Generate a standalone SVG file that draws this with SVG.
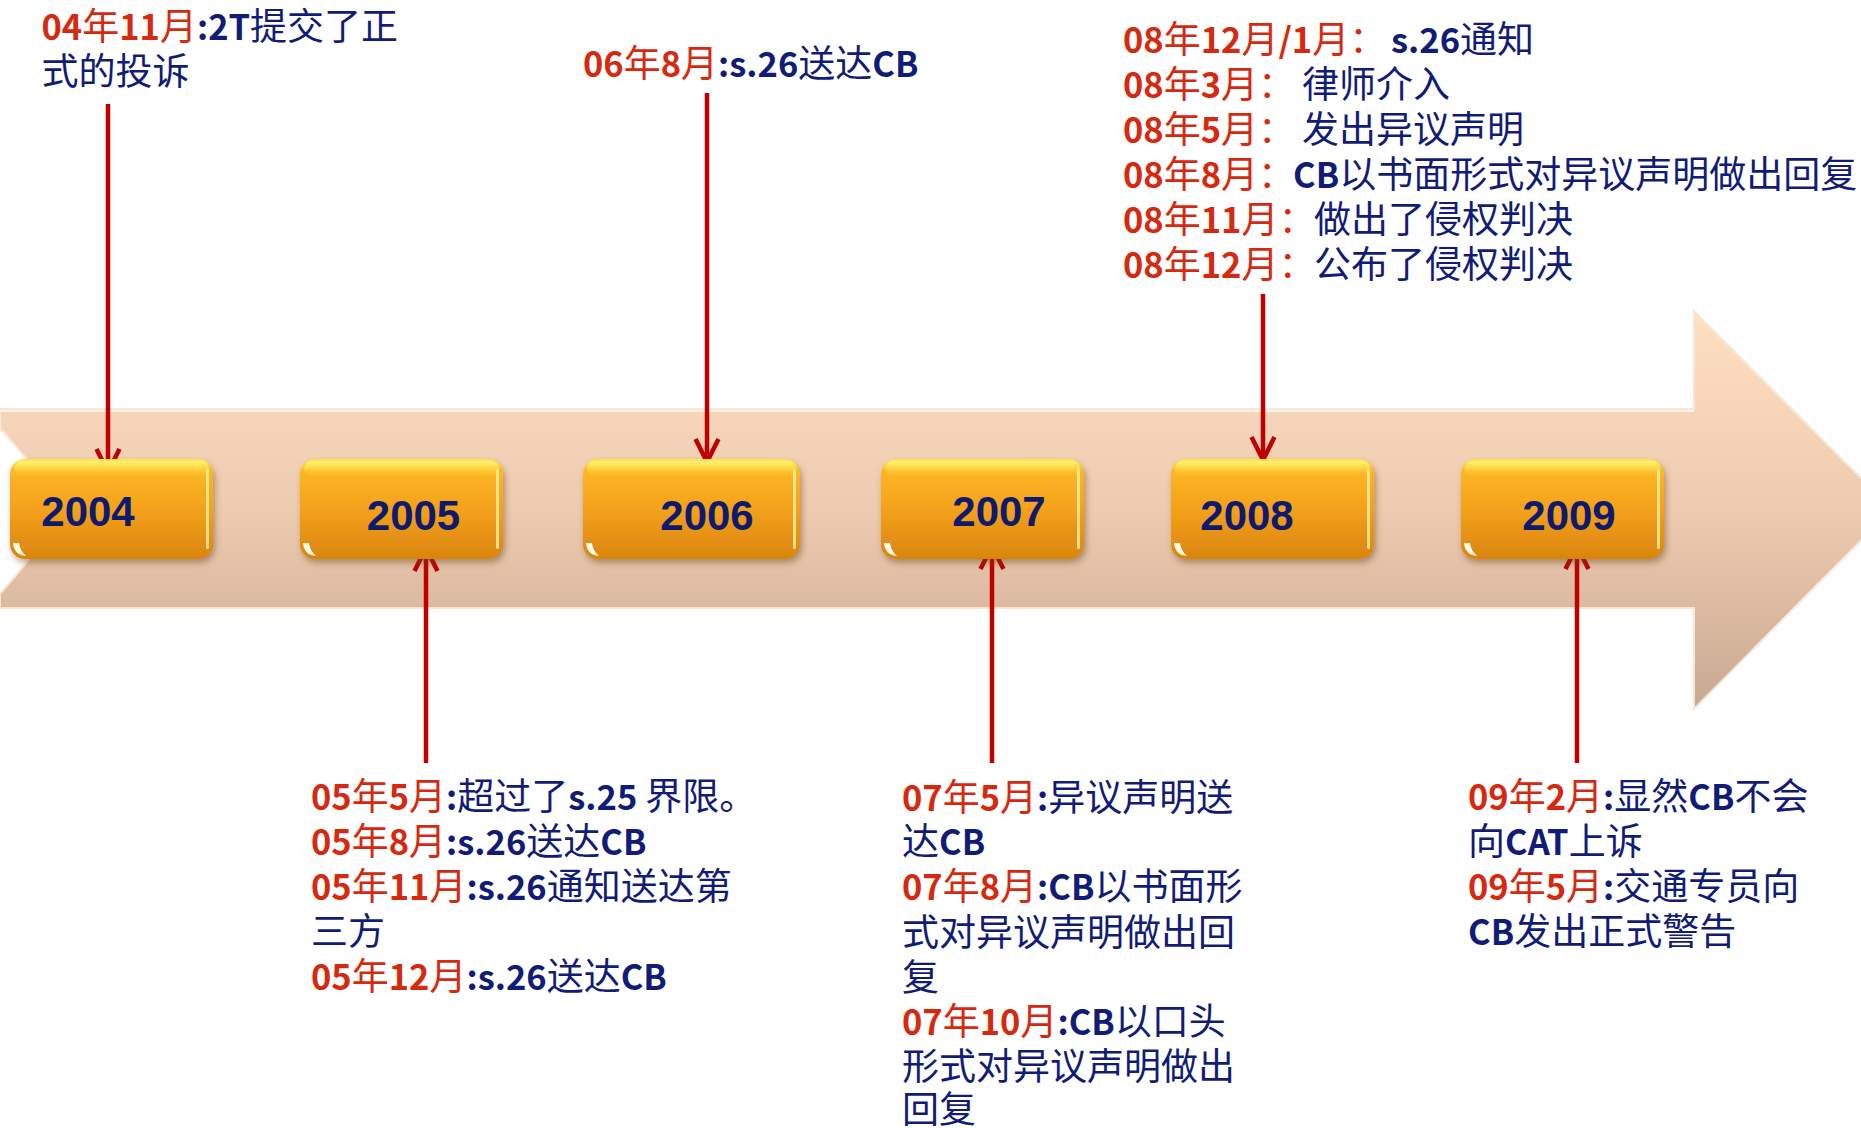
<svg xmlns="http://www.w3.org/2000/svg" xmlns:xlink="http://www.w3.org/1999/xlink" width="1861" height="1128" viewBox="0 0 1861 1128">
<style>
.tx{font-family:"Noto Sans CJK SC","Noto Sans",sans-serif;font-size:37px;fill:#111B78}
.r{fill:#D62A10}
.b{font-weight:700;font-size:34.5px}
.yr{font-family:"Liberation Sans",Arial,sans-serif;font-size:42px;font-weight:700;fill:#0E1A6E;text-anchor:middle}
.con{stroke:#C00000;stroke-width:4.5;fill:none;marker-end:url(#ah)}
</style>
<defs>
<linearGradient id="bandG" gradientUnits="userSpaceOnUse" x1="0" y1="311" x2="0" y2="709">
<stop offset="0" stop-color="#FFDFC4"/>
<stop offset="0.5" stop-color="#EDCBB0"/>
<stop offset="1" stop-color="#C9A892"/>
</linearGradient>
<linearGradient id="boxG" x1="0" y1="0" x2="0" y2="1">
<stop offset="0" stop-color="#FFE848"/>
<stop offset="0.12" stop-color="#FCB623"/>
<stop offset="0.5" stop-color="#F4A11C"/>
<stop offset="1" stop-color="#D9850F"/>
</linearGradient>
<linearGradient id="glossG" x1="0" y1="0" x2="0" y2="1">
<stop offset="0" stop-color="#FFF27A" stop-opacity="0.95"/>
<stop offset="1" stop-color="#FFD93A" stop-opacity="0"/>
</linearGradient>
<filter id="sh" x="-10%" y="-10%" width="130%" height="140%">
<feDropShadow dx="2" dy="4" stdDeviation="3" flood-color="#6B3F1A" flood-opacity="0.45"/>
</filter>
<marker id="ah" markerUnits="userSpaceOnUse" markerWidth="34" markerHeight="30" viewBox="0 0 34 30" refX="28" refY="15" orient="auto">
<path d="M5,3.5 L28,15 L5,26.5" fill="none" stroke="#C00000" stroke-width="4.5" stroke-linejoin="round"/>
</marker>
<g id="box">
<rect width="203" height="100" rx="15" fill="url(#boxG)" filter="url(#sh)"/>
<rect x="4" y="2" width="195" height="16" rx="8" fill="url(#glossG)"/>
<rect x="196" y="10" width="3" height="80" rx="1.5" fill="#FFF3A0" opacity="0.8"/>
<path d="M3,84 Q4,96 16,97 Q10,92 9,84 Z" fill="#FFFBE8"/>
</g>
<g id="boxW">
<rect width="217" height="100" rx="15" fill="url(#boxG)" filter="url(#sh)"/>
<rect x="4" y="2" width="209" height="16" rx="8" fill="url(#glossG)"/>
<rect x="210" y="10" width="3" height="80" rx="1.5" fill="#FFF3A0" opacity="0.8"/>
<path d="M3,84 Q4,96 16,97 Q10,92 9,84 Z" fill="#FFFBE8"/>
</g>
</defs>

<g id="timeline-band">
<path d="M0,409 H1694 V311 L1892,509 L1694,709 V608 H0 V594 L71,510 L0,428 Z" fill="url(#bandG)" stroke="#FBE6D4" stroke-width="2"/>
<path d="M0,411 H1694" stroke="#FFF1E4" stroke-width="2"/>
</g>

<g id="connectors">
<line class="con" x1="108" y1="104" x2="108" y2="472"/>
<line class="con" x1="426" y1="763" x2="426" y2="548"/>
<line class="con" x1="707" y1="93" x2="707" y2="462"/>
<line class="con" x1="992" y1="763" x2="992" y2="546"/>
<line class="con" x1="1263" y1="294" x2="1263" y2="460"/>
<line class="con" x1="1577" y1="763" x2="1577" y2="546"/>
</g>

<g id="node-2004"><use href="#box" x="10" y="459"/><text class="yr" x="88" y="526">2004</text></g>
<g id="node-2005"><use href="#box" x="300" y="459"/><text class="yr" x="413.5" y="530">2005</text></g>
<g id="node-2006"><use href="#boxW" x="583" y="459"/><text class="yr" x="707" y="530">2006</text></g>
<g id="node-2007"><use href="#box" x="881" y="459"/><text class="yr" x="999" y="526">2007</text></g>
<g id="node-2008"><use href="#box" x="1171" y="459"/><text class="yr" x="1247" y="530">2008</text></g>
<g id="node-2009"><use href="#box" x="1461" y="459"/><text class="yr" x="1569" y="530">2009</text></g>

<g id="note-2004">
<text class="tx" x="41.5" y="40"><tspan class="r b">04</tspan><tspan class="r">年</tspan><tspan class="r b">11</tspan><tspan class="r">月</tspan><tspan class="b">:2T</tspan>提交了正</text>
<text class="tx" x="41.5" y="85">式的投诉</text>
</g>

<g id="note-2006">
<text class="tx" x="583" y="77"><tspan class="r b">06</tspan><tspan class="r">年</tspan><tspan class="r b">8</tspan><tspan class="r">月</tspan><tspan class="b">:s.26</tspan>送达<tspan class="b">CB</tspan></text>
</g>

<g id="note-2008">
<text class="tx" x="1123" y="53"><tspan class="r b">08</tspan><tspan class="r">年</tspan><tspan class="r b">12</tspan><tspan class="r">月</tspan><tspan class="r b">/1</tspan><tspan class="r">月：</tspan><tspan x="1391" class="b">s.26</tspan>通知</text>
<text class="tx" x="1123" y="98"><tspan class="r b">08</tspan><tspan class="r">年</tspan><tspan class="r b">3</tspan><tspan class="r">月：</tspan><tspan x="1302">律师介入</tspan></text>
<text class="tx" x="1123" y="143"><tspan class="r b">08</tspan><tspan class="r">年</tspan><tspan class="r b">5</tspan><tspan class="r">月：</tspan><tspan x="1302">发出异议声明</tspan></text>
<text class="tx" x="1123" y="188"><tspan class="r b">08</tspan><tspan class="r">年</tspan><tspan class="r b">8</tspan><tspan class="r">月：</tspan><tspan x="1293" class="b">CB</tspan>以书面形式对异议声明做出回复</text>
<text class="tx" x="1123" y="233"><tspan class="r b">08</tspan><tspan class="r">年</tspan><tspan class="r b">11</tspan><tspan class="r">月：</tspan><tspan x="1314">做出了侵权判决</tspan></text>
<text class="tx" x="1123" y="278"><tspan class="r b">08</tspan><tspan class="r">年</tspan><tspan class="r b">12</tspan><tspan class="r">月：</tspan><tspan x="1314">公布了侵权判决</tspan></text>
</g>

<g id="note-2005">
<text class="tx" x="311" y="810"><tspan class="r b">05</tspan><tspan class="r">年</tspan><tspan class="r b">5</tspan><tspan class="r">月</tspan><tspan class="b">:</tspan>超过了<tspan class="b">s.25 </tspan>界限。</text>
<text class="tx" x="311" y="855"><tspan class="r b">05</tspan><tspan class="r">年</tspan><tspan class="r b">8</tspan><tspan class="r">月</tspan><tspan class="b">:s.26</tspan>送达<tspan class="b">CB</tspan></text>
<text class="tx" x="311" y="900"><tspan class="r b">05</tspan><tspan class="r">年</tspan><tspan class="r b">11</tspan><tspan class="r">月</tspan><tspan class="b">:s.26</tspan>通知送达第</text>
<text class="tx" x="311" y="945">三方</text>
<text class="tx" x="311" y="990"><tspan class="r b">05</tspan><tspan class="r">年</tspan><tspan class="r b">12</tspan><tspan class="r">月</tspan><tspan class="b">:s.26</tspan>送达<tspan class="b">CB</tspan></text>
</g>

<g id="note-2007">
<text class="tx" x="902" y="811"><tspan class="r b">07</tspan><tspan class="r">年</tspan><tspan class="r b">5</tspan><tspan class="r">月</tspan><tspan class="b">:</tspan>异议声明送</text>
<text class="tx" x="902" y="855">达<tspan class="b">CB</tspan></text>
<text class="tx" x="902" y="900"><tspan class="r b">07</tspan><tspan class="r">年</tspan><tspan class="r b">8</tspan><tspan class="r">月</tspan><tspan class="b">:CB</tspan>以书面形</text>
<text class="tx" x="902" y="946">式对异议声明做出回</text>
<text class="tx" x="902" y="991">复</text>
<text class="tx" x="902" y="1035"><tspan class="r b">07</tspan><tspan class="r">年</tspan><tspan class="r b">10</tspan><tspan class="r">月</tspan><tspan class="b">:CB</tspan>以口头</text>
<text class="tx" x="902" y="1080">形式对异议声明做出</text>
<text class="tx" x="902" y="1123">回复</text>
</g>

<g id="note-2009">
<text class="tx" x="1468" y="810"><tspan class="r b">09</tspan><tspan class="r">年</tspan><tspan class="r b">2</tspan><tspan class="r">月</tspan><tspan class="b">:</tspan>显然<tspan class="b">CB</tspan>不会</text>
<text class="tx" x="1468" y="855">向<tspan class="b">CAT</tspan>上诉</text>
<text class="tx" x="1468" y="900"><tspan class="r b">09</tspan><tspan class="r">年</tspan><tspan class="r b">5</tspan><tspan class="r">月</tspan><tspan class="b">:</tspan>交通专员向</text>
<text class="tx" x="1468" y="945"><tspan class="b">CB</tspan>发出正式警告</text>
</g>
</svg>
